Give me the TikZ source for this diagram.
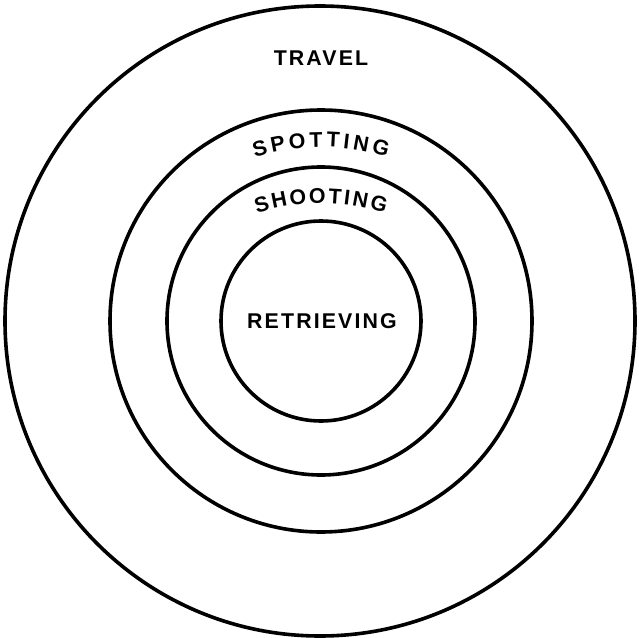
\documentclass[tikz,border=0pt]{standalone}
\usepackage{fontspec}
\newfontfamily\lblfont{Liberation Sans}[LetterSpace=10]
\usetikzlibrary{decorations.text}

\begin{document}
\begin{tikzpicture}[
  x=0.75pt, y=0.75pt,
  every node/.style={font=\lblfont\bfseries\fontsize{16}{18}\selectfont},
  ring/.style={circle,draw,line width=2.7pt,inner sep=0pt},
  lbl/.style={inner sep=0pt}
]
\useasboundingbox (0,0) rectangle (639,637);
\coordinate (c) at (321,316);

% Rings
\node[ring, minimum size=472.5pt] (travel) at (320,316) {};
\node[ring, minimum size=316.5pt] (spotting) at (c) {};
\node[ring, minimum size=231pt] (shooting) at (c) {};
\node[ring, minimum size=150pt] (retrieving) at (c) {};

% Labels
\node[lbl] (travellbl) at (321,579) {TRAVEL};
\node[lbl] (retrievinglbl) at (322,316) {RETRIEVING};
\path[decorate, decoration={text along path, text align={fit to path},
  text={|\lblfont\bfseries\fontsize{16}{18}\selectfont|SPOTTING}}]
  (321,270) ++(107.5:220) arc[start angle=107.5, end angle=72.5, radius=220];
\path[decorate, decoration={text along path, text align={fit to path},
  text={|\lblfont\bfseries\fontsize{16}{18}\selectfont|SHOOTING}}]
  (321,229) ++(108.2:205) arc[start angle=108.2, end angle=71.8, radius=205];
\end{tikzpicture}
\end{document}
